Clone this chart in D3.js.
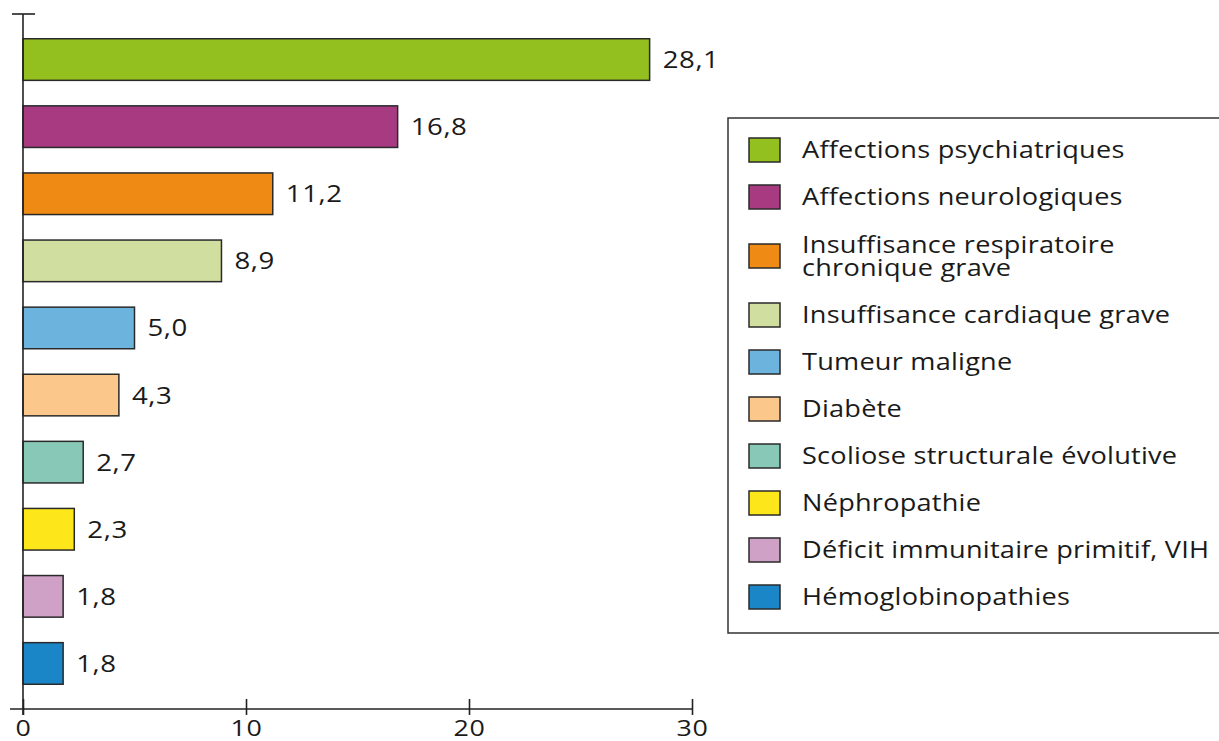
<!DOCTYPE html>
<html>
<head>
<meta charset="utf-8">
<script src="https://cdn.jsdelivr.net/npm/d3@7"></script>
<style>
  html, body { margin: 0; padding: 0; background: #fff; }
  svg { display: block; }
  text { font-family: "Open Sans", "DejaVu Sans", sans-serif; fill: #1a1a1a; }
</style>
</head>
<body>
<svg id="chart" width="1219" height="741"></svg>
<script>
// Categories (one bar each, top to bottom) and their values
const categories = [
  "Affections psychiatriques",
  "Affections neurologiques",
  "Insuffisance respiratoire chronique grave",
  "Insuffisance cardiaque grave",
  "Tumeur maligne",
  "Diabète",
  "Scoliose structurale évolutive",
  "Néphropathie",
  "Déficit immunitaire primitif, VIH",
  "Hémoglobinopathies"
];
const values = [28.1, 16.8, 11.2, 8.9, 5.0, 4.3, 2.7, 2.3, 1.8, 1.8];
const colors = ["#93bf1f", "#a83a82", "#ef8a14", "#d0de9f", "#6cb4de",
                "#fbc78b", "#88c8b6", "#fde61a", "#cfa1c7", "#1a86c8"];
// Legend labels, split into drawn lines
const legendLines = [
  ["Affections psychiatriques"],
  ["Affections neurologiques"],
  ["Insuffisance respiratoire", "chronique grave"],
  ["Insuffisance cardiaque grave"],
  ["Tumeur maligne"],
  ["Diabète"],
  ["Scoliose structurale évolutive"],
  ["Néphropathie"],
  ["Déficit immunitaire primitif, VIH"],
  ["Hémoglobinopathies"]
];
const xTicks = [0, 10, 20, 30];

const svg = d3.select("#chart");
const fmt = v => d3.format(".1f")(v).replace(".", ",");
// The typeface used here is set wide: glyphs are stretched horizontally
const stretch = 1.18;

const x = d3.scaleLinear().domain([0, 30]).range([23, 692]);
const y = d3.scaleBand().domain(categories).range([26, 697])
  .paddingInner(0.38).paddingOuter(0.19);
const axisY = 709;

// Bars
svg.append("g").selectAll("rect")
  .data(categories)
  .join("rect")
  .attr("x", x(0))
  .attr("y", d => y(d))
  .attr("width", (d, i) => x(values[i]) - x(0))
  .attr("height", y.bandwidth())
  .attr("fill", (d, i) => colors[i])
  .attr("stroke", "#2a2a2a")
  .attr("stroke-width", 1.5);

// Value labels
svg.append("g").selectAll("text")
  .data(categories)
  .join("text")
  .attr("transform", (d, i) =>
    `translate(${x(values[i]) + 13},${y(d) + y.bandwidth() / 2 + 8.5}) scale(${stretch + 0.02},1)`)
  .attr("font-size", 23)
  .attr("letter-spacing", 0.5)
  .text((d, i) => fmt(values[i]));

// Vertical axis with its top cap
svg.append("line")
  .attr("x1", x(0)).attr("x2", x(0))
  .attr("y1", 14).attr("y2", axisY + 6)
  .attr("stroke", "#222").attr("stroke-width", 1.6);
svg.append("line")
  .attr("x1", 12).attr("x2", 35)
  .attr("y1", 14).attr("y2", 14)
  .attr("stroke", "#222").attr("stroke-width", 1.6);

// Horizontal axis
const gx = svg.append("g")
  .attr("transform", `translate(0,${axisY})`)
  .call(d3.axisBottom(x).tickValues(xTicks).tickFormat(d3.format("d")).tickSize(6));
gx.select(".domain").remove();
gx.selectAll(".tick line")
  .attr("y1", -10).attr("y2", 6)
  .attr("stroke", "#222").attr("stroke-width", 1.6);
gx.selectAll(".tick text")
  .attr("y", 0).attr("dy", null)
  .attr("transform", `translate(0,27) scale(${stretch + 0.04},1)`)
  .attr("font-size", 22)
  .attr("letter-spacing", 0.5)
  .attr("font-family", "'Open Sans', sans-serif")
  .attr("fill", "#1a1a1a");
gx.append("line")
  .attr("x1", 10).attr("x2", x(30))
  .attr("y1", 0).attr("y2", 0)
  .attr("stroke", "#222").attr("stroke-width", 1.6);

// Legend
const lg = svg.append("g");
lg.append("rect")
  .attr("x", 728).attr("y", 118)
  .attr("width", 520).attr("height", 515)
  .attr("fill", "none").attr("stroke", "#333").attr("stroke-width", 1.5);

let cy = 150;
legendLines.forEach((lines, i) => {
  if (i > 0) {
    cy += 23.5 + 12 * (legendLines[i - 1].length - 1) + 23.5 + 12 * (lines.length - 1);
  }
  lg.append("rect")
    .attr("x", 749).attr("y", cy - 12)
    .attr("width", 31).attr("height", 24)
    .attr("fill", colors[i])
    .attr("stroke", "#2a2a2a").attr("stroke-width", 1.5);
  lines.forEach((ln, j) => {
    lg.append("text")
      .attr("transform",
        `translate(802,${cy + 8 + (j - (lines.length - 1) / 2) * 23}) scale(${stretch},1)`)
      .attr("font-size", 23)
      .attr("letter-spacing", 0.2)
      .text(ln);
  });
});
</script>
</body>
</html>
